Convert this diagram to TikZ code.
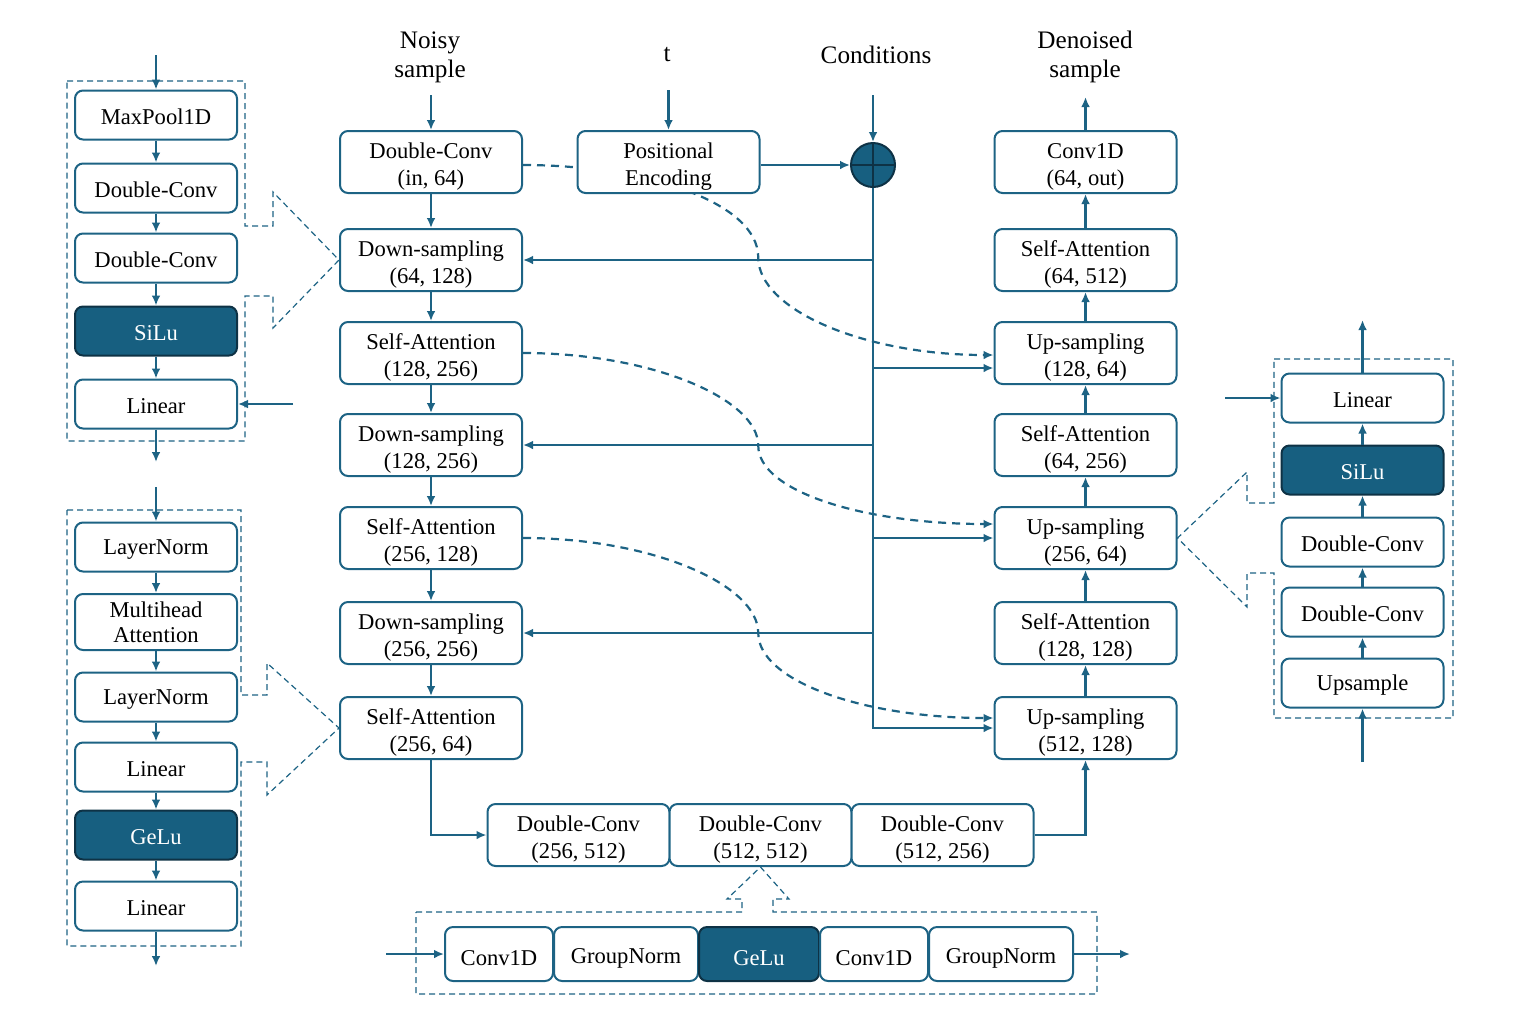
\documentclass[tikz,border=0pt]{standalone}
\usepackage{fontspec}
\setmainfont{Liberation Serif}
\usetikzlibrary{arrows.meta,backgrounds,calc}
\definecolor{unet}{HTML}{1D6384}
\definecolor{unetfill}{HTML}{175F80}
\definecolor{unetdark}{HTML}{0E3245}

\begin{document}
\begin{tikzpicture}[x=0.5pt,y=-0.5pt,
  base/.style={draw=unet,line width=1pt,rounded corners=4pt,fill=white,inner sep=0pt,align=center,font=\fontsize{11.3}{13.5}\selectfont},
  blk/.style={base,minimum width=91pt,minimum height=31pt,execute at begin node={\rule{0pt}{26pt}}},
  sblk/.style={base,minimum width=81pt,minimum height=24.5pt,execute at begin node={\rule{0pt}{9.5pt}}},
  tblk/.style={base,minimum height=27pt,execute at begin node={\rule{0pt}{11.5pt}}},
  act/.style={draw=unetdark,fill=unetfill,text=white},
  lbl/.style={align=center,font=\fontsize{12.6}{14.5}\selectfont},
  arr/.style={draw=unet,line width=1.1pt,-{Latex[length=5pt,width=4.4pt]}},
  skip/.style={arr,dash pattern=on 4pt off 3pt},
  panel/.style={draw=unet,line width=0.6pt,dash pattern=on 3pt off 2pt}]
\useasboundingbox (0,0) rectangle (1514,1008);

 %% inputs and output
\node[lbl] at (430,57) (noisy) {Noisy\\sample}; \node[lbl] at (667,55) (tin) {t};
\node[lbl] at (876,55) (cond) {Conditions}; \node[lbl] at (1085,57) (denoised) {Denoised\\sample};
\coordinate (noisyin) at (431,95); \coordinate (tstart) at (668.5,90); \coordinate (condin) at (873,95); \coordinate (denout) at (1085.5,97);

 %% encoder
\node[blk] at (431,162) (inc) {Double-Conv\\(in, 64)}; \node[blk] at (668.5,162) (pe) {Positional\\Encoding};
\node[blk] at (431,260) (down1) {Down-sampling\\(64, 128)};
\node[blk] at (431,353) (att1) {Self-Attention\\(128, 256)};
\node[blk] at (431,445) (down2) {Down-sampling\\(128, 256)};
\node[blk] at (431,538) (att2) {Self-Attention\\(256, 128)};
\node[blk] at (431,633) (down3) {Down-sampling\\(256, 256)};
\node[blk] at (431,728) (att3) {Self-Attention\\(256, 64)};
\node[circle,act,line width=1pt,minimum size=22pt,inner sep=0pt] at (873,165) (plus) {};
\draw[unetdark,line width=1pt] (plus.north) -- (plus.south) (plus.west) -- (plus.east);

 %% bottleneck
\node[blk] at (578.5,835) (bot1) {Double-Conv\\(256, 512)}; \node[blk] at (760.5,835) (bot2) {Double-Conv\\(512, 512)}; \node[blk] at (942.5,835) (bot3) {Double-Conv\\(512, 256)};

 %% decoder
\node[blk] at (1085.5,162) (outc) {Conv1D\\(64, out)};
\node[blk] at (1085.5,260) (att6) {Self-Attention\\(64, 512)};
\node[blk] at (1085.5,353) (up3) {Up-sampling\\(128, 64)};
\node[blk] at (1085.5,445) (att5) {Self-Attention\\(64, 256)};
\node[blk] at (1085.5,538) (up2) {Up-sampling\\(256, 64)};
\node[blk] at (1085.5,633) (att4) {Self-Attention\\(128, 128)};
\node[blk] at (1085.5,728) (up1) {Up-sampling\\(512, 128)};

\draw[arr] (noisyin) -- (inc); \draw[arr] (tstart) -- (pe); \draw[arr] (condin) -- (plus); \draw[arr] (outc) -- (denout);
\draw[arr] (pe.east |- plus) -- (plus);
\foreach \a/\b in {inc/down1,down1/att1,att1/down2,down2/att2,att2/down3,down3/att3} \draw[arr] (\a) -- (\b);
\foreach \a/\b in {up1/att4,att4/up2,up2/att5,att5/up3,up3/att6,att6/outc} \draw[arr] (\a) -- (\b);
\draw[arr] (att3.south) |- (bot1.west); \draw[arr] (bot3.east) -| (up1.south);
 %% time embedding
\draw[arr] (plus.south) -- (plus.south |- up1.west) -- (up1.west);
\draw[arr] (plus.south |- down1.east) -- (down1.east);
\draw[arr] (plus.south |- down2.east) -- (down2.east);
\draw[arr] (plus.south |- down3.east) -- (down3.east);
\draw[arr] ($(plus.south |- up3.west)+(0,15)$) -- ($(up3.west)+(0,15)$);
\draw[arr] (plus.south |- up2.west) -- (up2.west);
 %% skip connections
\begin{scope}[on background layer]
\draw[skip] ($(inc.east)+(0,3)$) .. controls +(120,0) and +(0,-56) .. ($(inc.east)!0.5!(up3.west)$) .. controls +(0,52) and +(-130,0) .. ($(up3.west)+(0,2)$);
\draw[skip] (att1.east) .. controls +(130,0) and +(0,-46) .. ($(att1.east)!0.5!(up2.west)$) .. controls +(0,46) and +(-130,0) .. ($(up2.west)+(0,-14)$);
\draw[skip] (att2.east) .. controls +(130,0) and +(0,-48) .. ($(att2.east)!0.5!(up1.west)$) .. controls +(0,48) and +(-130,0) .. ($(up1.west)+(0,-10)$);
\end{scope}

 %% down-sampling detail
\draw[panel] (67,81) -- (245,81) -- (245,226) -- (273,226) -- (273,192) -- (down1.west) -- (273,328) -- (273,296) -- (245,296) -- (245,441) -- (67,441) -- cycle;
\node[sblk] at (156,115) (mp) {MaxPool1D}; \node[sblk] at (156,188) (dcA) {Double-Conv}; \node[sblk] at (156,258) (dcB) {Double-Conv};
\node[sblk,act] at (156,331) (silu1) {SiLu}; \node[sblk] at (156,404) (lin1) {Linear};
\coordinate (tlin) at (156,55); \coordinate (tlout) at (156,462); \coordinate (tlside) at (293,404);
\foreach \a/\b in {tlin/mp,mp/dcA,dcA/dcB,dcB/silu1,silu1/lin1,lin1/tlout,tlside/lin1} \draw[arr] (\a) -- (\b);

 %% self-attention detail
\draw[panel] (67,510) -- (241,510) -- (241,695) -- (267,695) -- (267,663) -- (att3.west) -- (267,795) -- (267,762) -- (241,762) -- (241,946) -- (67,946) -- cycle;
\node[sblk] at (156,547) (ln1) {LayerNorm}; \node[sblk,minimum height=28pt,font=\fontsize{11.3}{12.5}\selectfont] at (156,622) (mha) {Multihead\\Attention};
\node[sblk] at (156,697) (ln2) {LayerNorm}; \node[sblk] at (156,767) (lin2) {Linear};
\node[sblk,act] at (156,835) (gelu1) {GeLu}; \node[sblk] at (156,906) (lin3) {Linear};
\coordinate (blin) at (156,487); \coordinate (blout) at (156,966);
\foreach \a/\b in {blin/ln1,ln1/mha,mha/ln2,ln2/lin2,lin2/gelu1,gelu1/lin3,lin3/blout} \draw[arr] (\a) -- (\b);

 %% up-sampling detail
\draw[panel] (1274,359) -- (1453,359) -- (1453,718) -- (1274,718) -- (1274,573) -- (1247,573) -- (1247,607) -- (up2.east) -- (1247,472) -- (1247,503) -- (1274,503) -- cycle;
\node[sblk] at (1362.5,398) (rlin) {Linear}; \node[sblk,act] at (1362.5,470) (rsilu) {SiLu};
\node[sblk] at (1362.5,542) (rdcA) {Double-Conv}; \node[sblk] at (1362.5,612) (rdcB) {Double-Conv};
\node[sblk] at (1362.5,683) (ups) {Upsample};
\coordinate (rin) at (1362.5,762); \coordinate (rout) at (1362.5,320); \coordinate (rside) at (1225,398);
\foreach \a/\b in {rin/ups,ups/rdcB,rdcB/rdcA,rdcA/rsilu,rsilu/rlin,rlin/rout,rside/rlin} \draw[arr] (\a) -- (\b);

 %% double-conv detail
\draw[panel] (416,912) -- (742,912) -- (742,899) -- (727,899) -- (bot2.south) -- (789,899) -- (773,899) -- (773,912) -- (1097,912) -- (1097,994) -- (416,994) -- cycle;
\node[tblk,minimum width=54pt] at (499,954) (cv1) {Conv1D};
\node[tblk,minimum width=72pt] at (626,954) (gn1) {GroupNorm};
\node[tblk,act,minimum width=60pt] at (759,954) (gelu2) {GeLu};
\node[tblk,minimum width=54pt] at (874,954) (cv2) {Conv1D};
\node[tblk,minimum width=72pt] at (1001,954) (gn2) {GroupNorm};
\coordinate (dcin) at (386,954); \coordinate (dcout) at (1130,954);
\draw[arr] (dcin) -- (cv1); \draw[arr] (gn2) -- (dcout);
\end{tikzpicture}
\end{document}
